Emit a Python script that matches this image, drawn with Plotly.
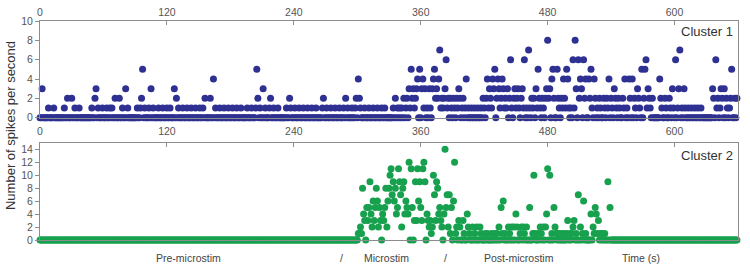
import plotly.graph_objects as go

# ---------------- data (counts per 1-s bin) ----------------
N_SECONDS = 660
x_ticks = [0, 120, 240, 360, 480, 600]
y1_ticks = [0, 2, 4, 6, 8, 10]
y2_ticks = [0, 2, 4, 6, 8, 10, 12, 14]

# Cluster 1: seconds at which the count equals the given level (all other seconds = 0)
c1_level1 = [8, 13, 23, 33, 37, 49, 55, 59, 63, 66, 68, 78, 83, 92, 95, 99, 103, 107,
             112, 116, 120, 123, 131, 135, 139, 143, 147, 151, 154, 166, 170, 174, 178,
             182, 186, 190, 196, 200, 204, 208, 213, 217, 221, 225, 233, 237, 241, 245,
             249, 253, 257, 261, 267, 271, 275, 279, 283, 287, 291, 295, 298, 303, 307,
             311, 315, 319, 323, 326, 334, 338, 340, 342, 346, 350, 354, 363, 366, 369,
             379, 381, 385, 389, 392, 395, 399, 402, 405, 408, 411, 414, 417, 420, 424,
             427, 435, 439, 441, 446, 450, 453, 457, 460, 463, 466, 470, 473, 476, 491,
             494, 497, 500, 502, 505, 522, 527, 530, 534, 537, 541, 545, 548, 552, 555,
             563, 567, 574, 577, 588, 592, 596, 599, 603, 607, 610, 613, 616, 619, 622,
             625, 640, 643, 650, 652]
c1_level2 = [26, 30, 52, 71, 75, 96, 129, 156, 161, 206, 218, 236, 268, 289, 299, 302,
             336, 344, 347, 352, 355, 374, 376, 380, 382, 386, 388, 391, 394, 397, 400,
             419, 422, 426, 432, 436, 440, 444, 448, 451, 455, 465, 467, 472, 475, 478,
             481, 486, 490, 493, 496, 510, 515, 520, 525, 529, 533, 536, 540, 544, 547,
             551, 558, 562, 566, 571, 576, 579, 587, 591, 595, 637, 641, 645, 649, 653,
             657, 659]
c1_level3 = [2, 53, 81, 105, 127, 211, 349, 353, 356, 361, 364, 368, 371, 375, 383, 396,
             425, 429, 434, 438, 442, 449, 452, 456, 469, 479, 482, 507, 512, 543, 565,
             575, 598, 604, 609, 636, 644, 647]
c1_level4 = [164, 301, 357, 362, 372, 377, 403, 423, 428, 433, 437, 484, 495, 499, 511,
             516, 519, 524, 538, 553, 557, 560, 586]
c1_level5 = [97, 205, 351, 359, 373, 430, 471, 485, 489, 498, 521, 569, 572, 654]
c1_level6 = [384, 445, 458, 504, 509, 514, 573, 601, 639]
c1_level7 = [378, 462, 605]
c1_level8 = [480, 506]

# Cluster 2: non-zero seconds and their counts (all other seconds = 0)
c2_times = [301, 302, 303, 304, 305, 306, 307, 309, 310, 311, 312, 313, 314, 315, 316,
            317, 318, 319, 320, 321, 322, 324, 325, 326, 327, 328, 329, 330, 331, 332,
            333, 334, 335, 336, 337, 338, 339, 340, 341, 342, 343, 344, 345, 346, 347,
            348, 349, 351, 352, 354, 355, 356, 357, 358, 359, 360, 361, 362, 363, 364,
            366, 367, 368, 369, 370, 371, 372, 373, 374, 375, 376, 377, 378, 379, 380,
            382, 383, 384, 385, 386, 387, 388, 389, 391, 392, 393, 394, 396, 397, 400,
            401, 404, 405, 406, 409, 411, 413, 416, 417, 421, 423, 427, 430, 432, 434,
            436, 437, 438, 440, 443, 444, 446, 448, 450, 451, 454, 455, 457, 458, 460,
            463, 466, 467, 468, 471, 473, 474, 476, 478, 479, 480, 482, 484, 486, 487,
            488, 490, 492, 495, 498, 499, 501, 503, 504, 505, 507, 509, 511, 513, 514,
            516, 521, 523, 524, 525, 526, 527, 528, 530, 532, 534, 537, 539]
c2_counts = [1, 1, 2, 1, 8, 4, 3, 5, 3, 5, 9, 4, 2, 6, 3,
             5, 8, 6, 2, 5, 3, 4, 3, 5, 8, 2, 6, 8, 10, 11,
             7, 9, 6, 8, 4, 5, 11, 9, 7, 2, 8, 9, 4, 6, 5,
             4, 12, 11, 5, 3, 9, 3, 11, 6, 9, 5, 3, 11, 12, 9,
             4, 3, 2, 3, 1, 2, 10, 7, 3, 9, 8, 4, 5, 3, 2,
             4, 14, 5, 7, 2, 7, 1, 5, 6, 12, 1, 2, 3, 2, 3,
             1, 4, 2, 1, 2, 1, 2, 2, 1, 1, 1, 1, 1, 1, 2,
             5, 1, 6, 1, 2, 1, 2, 2, 4, 2, 1, 2, 2, 1, 2,
             5, 1, 10, 1, 1, 2, 1, 2, 2, 4, 11, 10, 1, 5, 2,
             1, 1, 1, 1, 1, 3, 1, 1, 2, 3, 1, 7, 2, 1, 6,
             1, 4, 2, 1, 5, 4, 1, 3, 1, 1, 1, 9, 5]

panel_labels = ["Cluster 1", "Cluster 2"]
phase_labels = ["Pre-microstim", "/", "Microstim", "/", "Post-microstim", "Time (s)"]
phase_label_x = [140, 285, 328, 383, 453, 568]   # seconds
y_title = "Number of spikes per second"

# ---------------- build series ----------------
seconds = list(range(N_SECONDS))
c1 = [0] * N_SECONDS
for lvl, times in [(1, c1_level1), (2, c1_level2), (3, c1_level3), (4, c1_level4),
                   (5, c1_level5), (6, c1_level6), (7, c1_level7), (8, c1_level8)]:
    for t in times:
        c1[t] = lvl
c2 = [0] * N_SECONDS
for t, v in zip(c2_times, c2_counts):
    c2[t] = v

NAVY = "#2E3192"
GREEN = "#17A14E"
AXIS = "#8c8c8c"
FONT = "Arial, Liberation Sans, sans-serif"
TICKFONT = dict(family=FONT, size=10.5, color="#555555")

fig = go.Figure()
fig.add_trace(go.Scatter(x=seconds, y=c1, mode="markers", xaxis="x", yaxis="y",
                         marker=dict(size=7, color=NAVY), cliponaxis=False,
                         hoverinfo="x+y"))
fig.add_trace(go.Scatter(x=seconds, y=c2, mode="markers", xaxis="x2", yaxis="y2",
                         marker=dict(size=7, color=GREEN), cliponaxis=False,
                         hoverinfo="x+y"))
# empty helpers so the top-side axes are drawn
fig.add_trace(go.Scatter(x=[], y=[], xaxis="x3", yaxis="y", hoverinfo="skip"))
fig.add_trace(go.Scatter(x=[], y=[], xaxis="x4", yaxis="y2", hoverinfo="skip"))

XR = [0, 660]
common_x = dict(range=XR, showgrid=False, zeroline=False, showline=True,
                linecolor=AXIS, linewidth=1, tickvals=x_ticks, tickfont=TICKFONT,
                fixedrange=True, automargin=False)

top_dom = [(240 - 117.7) / 219, 1.0]
bot_dom = [0.0, (240 - 143.3) / 219]

fig.update_layout(
    width=750, height=271,
    margin=dict(l=40, r=11.5, t=21, b=31, pad=0, autoexpand=False),
    paper_bgcolor="white", plot_bgcolor="white", showlegend=False,
    xaxis=dict(**common_x, anchor="y", domain=[0, 1], ticks="", ticklabelstandoff=4),
    xaxis3=dict(**common_x, anchor="y", overlaying="x", side="top",
                ticks="inside", ticklen=4, tickcolor=AXIS),
    xaxis2=dict(**common_x, anchor="y2", domain=[0, 1], ticks="", showticklabels=False),
    xaxis4=dict(**common_x, anchor="y2", overlaying="x2", side="top",
                ticks="inside", ticklen=4, tickcolor=AXIS, showticklabels=False),
    yaxis=dict(domain=top_dom, range=[0, 10], anchor="x", tickvals=y1_ticks,
               ticks="outside", ticklen=4, tickcolor=AXIS, showline=True, mirror=True,
               linecolor=AXIS, showgrid=False, zeroline=False, tickfont=TICKFONT,
               fixedrange=True, automargin=False),
    yaxis2=dict(domain=bot_dom, range=[0, 14.92], anchor="x2", tickvals=y2_ticks,
                ticks="outside", ticklen=4, tickcolor=AXIS, showline=True, mirror=True,
                linecolor=AXIS, showgrid=False, zeroline=False, tickfont=TICKFONT,
                fixedrange=True, automargin=False),
)

ann = []
ann.append(dict(text=panel_labels[0], xref="paper", yref="paper", x=1, y=(240 - 31) / 219,
                xanchor="right", yanchor="middle", xshift=-3, showarrow=False,
                font=dict(family=FONT, size=13, color="#333333")))
ann.append(dict(text=panel_labels[1], xref="paper", yref="paper", x=1, y=(240 - 155) / 219,
                xanchor="right", yanchor="middle", xshift=-3, showarrow=False,
                font=dict(family=FONT, size=13, color="#333333")))
ann.append(dict(text=y_title, xref="paper", yref="paper", x=(10 - 40) / 698.5,
                y=(240 - 126) / 219, textangle=-90, xanchor="center", yanchor="middle",
                showarrow=False, font=dict(family=FONT, size=13, color="#333333")))
for lab, xs in zip(phase_labels, phase_label_x):
    ann.append(dict(text=lab, xref="x2", yref="paper", x=xs, y=(240 - 258) / 219,
                    xanchor="center", yanchor="middle", showarrow=False,
                    font=dict(family=FONT, size=10.5, color="#444444")))
fig.update_layout(annotations=ann)

# remove the browser's default 8 px body margin so the figure sits at the page origin
fig.write_html(
    "out.html",
    config={"displayModeBar": False},
    post_script="document.body.style.margin='0px';document.body.style.padding='0px';"
                "document.body.style.overflow='hidden';",
)
